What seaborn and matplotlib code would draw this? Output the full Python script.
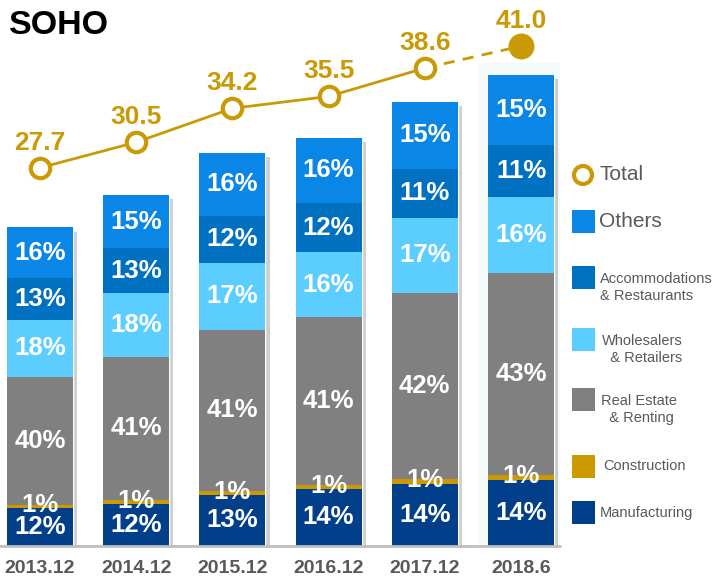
import numpy as np
import pandas as pd
import matplotlib
matplotlib.use('Agg')
import matplotlib.pyplot as plt
import matplotlib.patheffects as pe
from matplotlib.patches import Rectangle, Ellipse
import seaborn as sns

# Data
periods = ['2013.12', '2014.12', '2015.12', '2016.12', '2017.12', '2018.6']
totals = [27.7, 30.5, 34.2, 35.5, 38.6, 41.0]

# sector shares in %, listed bottom to top
manufacturing = [12, 12, 13, 14, 14, 14]
construction = [1, 1, 1, 1, 1, 1]
real_estate = [40, 41, 41, 41, 42, 43]
wholesale = [18, 18, 17, 16, 17, 16]
accommodations = [13, 13, 12, 12, 11, 11]
others = [16, 15, 16, 16, 15, 15]

sectors = ['Manufacturing', 'Construction', 'Real Estate', 'Wholesale',
           'Accommodations', 'Others']
shares = [manufacturing, construction, real_estate, wholesale,
          accommodations, others]
colors = {'Manufacturing': '#023F8A', 'Construction': '#CC9900',
          'Real Estate': '#808080', 'Wholesale': '#5BCEFF',
          'Accommodations': '#0070C0', 'Others': '#0A86E6'}
gold = '#C99A06'
gray_txt = '#595959'

pos = np.arange(len(periods))
rows = []
for name, vals in zip(sectors, shares):
    for i, v in enumerate(vals):
        rows.append({'pos': i, 'sector': name, 'share': v,
                     'value': v / 100 * totals[i]})
df = pd.DataFrame(rows)

sns.set_style('white')
plt.rcParams['font.family'] = ['Liberation Sans', 'DejaVu Sans']

W, H = 719, 580
fig = plt.figure(figsize=(W / 100, H / 100), dpi=100)
ax = fig.add_axes([0, 34 / H, 560 / W, 546 / H])

bar_w = 0.686

# faint highlight behind the latest period
ax.axvspan(4.55, 5.5, ymin=0, ymax=(546 - 63) / 546, color='#F5FAFB',
           zorder=0, lw=0)

# shadow behind each column
ax.bar(pos, totals, width=bar_w, color='white', zorder=0.6,
       path_effects=[pe.SimplePatchShadow(offset=(3, -3),
                                          shadow_rgbFace='#777777',
                                          alpha=0.35),
                     pe.Normal()])

# stacked bars (histplot stacks the last hue level at the bottom)
sns.histplot(data=df, x='pos', weights='value', hue='sector',
             hue_order=sectors[::-1], palette=colors, multiple='stack',
             discrete=True, shrink=bar_w, alpha=1, linewidth=0,
             edgecolor='none', legend=False, ax=ax, zorder=1)

# percentage labels in the segments
for i in pos:
    bottom = 0
    for name, vals in zip(sectors, shares):
        h = vals[i] / 100 * totals[i]
        yc = bottom + h / 2
        if name == 'Construction':
            yc += 0.1
        ax.text(i, yc, f'{vals[i]}%', ha='center', va='center',
                color='white', fontsize=18.5, fontweight='bold', zorder=5)
        bottom += h

ax.set_xlim(-40 / 96.2, (560 - 40) / 96.2)
ax.set_ylim(0, 546 / 11.5)
ax.set_xticks(pos)
ax.set_xticklabels(periods, fontsize=14, fontweight='bold', color=gray_txt)
ax.tick_params(axis='x', length=0, pad=10)
ax.set_yticks([])
ax.set_xlabel('')
ax.set_ylabel('')
for s in ax.spines.values():
    s.set_visible(False)
ax.axhline(0, color='#BFBFBF', lw=2, zorder=3, clip_on=False)

# total line on a twin axis
ax2 = ax.twinx()
sns.lineplot(x=pos[4:], y=totals[4:], color=gold, lw=2, ls=(0, (4, 3)),
             ax=ax2)
sns.lineplot(x=pos[:5], y=totals[:5], color=gold, lw=2, marker='o',
             markersize=14, markerfacecolor='white', markeredgecolor=gold,
             markeredgewidth=3, ax=ax2)
sns.scatterplot(x=pos[5:], y=totals[5:], color=gold, edgecolor=gold,
                s=300, ax=ax2, zorder=6)
for i, t in enumerate(totals):
    ax2.annotate(f'{t:.1f}', (pos[i], t), xytext=(0, 18),
                 textcoords='offset points', ha='center', va='center',
                 color=gold, fontsize=19, fontweight='bold')
ax2.set_ylim(-13.63, 46.04)
ax2.set_yticks([])
ax2.set_ylabel('')
for s in ax2.spines.values():
    s.set_visible(False)

# title
fig.text(9 / W, 1 - 25 / H, 'SOHO', fontsize=24.5, fontweight='bold',
         color='black', va='center', ha='left')

# legend drawn by hand
def fx(px):
    return px / W

def fy(py):
    return 1 - py / H

fig.add_artist(Ellipse((fx(583), fy(175)), 18 / W, 18 / H,
                       transform=fig.transFigure, facecolor='white',
                       edgecolor=gold, lw=3))
fig.text(fx(599), fy(175), 'Total', fontsize=15, color=gray_txt,
         va='center', ha='left')

legend_items = [
    ('Others', 210, 'Others', 15, 599),
    ('Accommodations', 266, 'Accommodations\n& Restaurants', 10.5, 600),
    ('Wholesale', 328, 'Wholesalers\n  & Retailers', 10.5, 602),
    ('Real Estate', 388, 'Real Estate\n  & Renting', 10.5, 601),
    ('Construction', 455, 'Construction', 10.5, 603),
    ('Manufacturing', 501, 'Manufacturing', 10.5, 600),
]
for key, top, label, size, tx in legend_items:
    fig.add_artist(Rectangle((fx(572), fy(top + 23)), 23 / W, 23 / H,
                             transform=fig.transFigure, color=colors[key],
                             lw=0))
    n_lines = label.count('\n') + 1
    yc = top + 11.5 + (n_lines - 1) * 10
    fig.text(fx(tx), fy(yc), label, fontsize=size, color=gray_txt,
             va='center', ha='left', linespacing=1.25)

fig.savefig('out.png', dpi=100)
